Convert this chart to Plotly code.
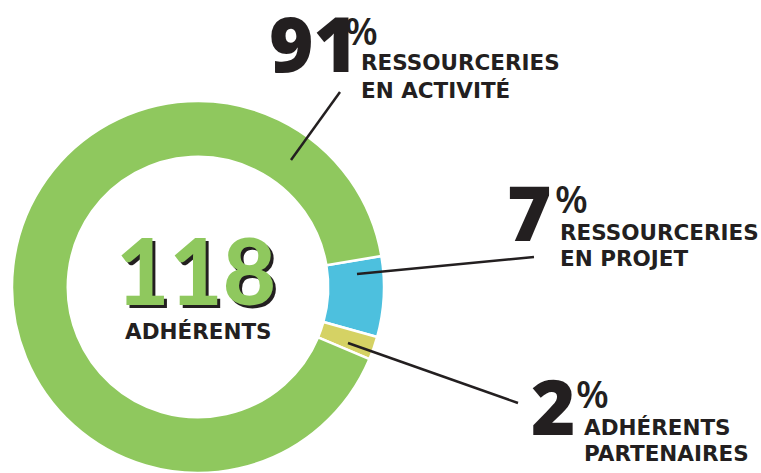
import plotly.graph_objects as go

# ---- data ----
categories = ["Ressourceries en projet", "Adhérents partenaires", "Ressourceries en activité"]
shares = [7, 2, 91]
colors = ["#4dc0de", "#d5d264", "#8fc85e"]
total_members = 118

big_labels = ["91", "7", "2"]
label_line1 = ["RESSOURCERIES", "RESSOURCERIES", "ADHÉRENTS"]
label_line2 = ["EN ACTIVITÉ", "EN PROJET", "PARTENAIRES"]
center_label = "ADHÉRENTS"

W, H = 761, 473
DARK = "#231f20"
NUM_FONT = "Open Sans"
TXT_FONT = "DejaVu Sans"
TXT_SIZE = 21.5

fig = go.Figure()

# donut
cx, cy, R = 198, 287, 186
fig.add_trace(go.Pie(
    labels=categories, values=shares, sort=False, direction="clockwise",
    rotation=80.4, hole=0.70, textinfo="none", hoverinfo="label+percent",
    marker=dict(colors=colors, line=dict(color="white", width=2.5)),
    domain=dict(x=[(cx - R) / W, (cx + R) / W], y=[(H - cy - R) / H, (H - cy + R) / H]),
    showlegend=False,
))

# invisible pixel-space axes for labels/leaders
fig.add_trace(go.Scatter(x=[0, W], y=[0, H], mode="markers", marker=dict(opacity=0),
                         hoverinfo="skip", showlegend=False))

# layout positions (pixels) for each label block
blocks = [
    dict(num_x=268, num_y=42.5, pct_x=344, pct_y=30, txt_x=360, l1_y=62.5, l2_y=90.5,
         lead=((291, 160), (340, 92))),
    dict(num_x=506, num_y=211, pct_x=554, pct_y=198, txt_x=559, l1_y=232.5, l2_y=258,
         lead=((357, 274), (534, 257))),
    dict(num_x=530, num_y=405.5, pct_x=575, pct_y=393, txt_x=583, l1_y=427.5, l2_y=453,
         lead=((348, 343), (518, 403))),
]

ann = []
shapes = []
for i, b in enumerate(blocks):
    ann.append(dict(x=b["num_x"], y=b["num_y"], text=big_labels[i], xanchor="left", yanchor="middle",
                    font=dict(family=NUM_FONT, size=76, color=DARK, weight=800)))
    ann.append(dict(x=b["pct_x"], y=b["pct_y"], text="%", xanchor="left", yanchor="middle",
                    font=dict(family=NUM_FONT, size=38, color=DARK, weight=600)))
    ann.append(dict(x=b["txt_x"], y=b["l1_y"], text=label_line1[i], xanchor="left", yanchor="middle",
                    font=dict(family=TXT_FONT, size=TXT_SIZE, color=DARK, weight=700)))
    ann.append(dict(x=b["txt_x"], y=b["l2_y"], text=label_line2[i], xanchor="left", yanchor="middle",
                    font=dict(family=TXT_FONT, size=TXT_SIZE, color=DARK, weight=700)))
    (x0, y0), (x1, y1) = b["lead"]
    shapes.append(dict(type="line", x0=x0, y0=y0, x1=x1, y1=y1, xref="x", yref="y",
                       line=dict(color=DARK, width=2.5)))

# center total with drop shadow
ann.append(dict(x=199, y=272, text=str(total_members), xanchor="center", yanchor="middle",
                font=dict(family="Lato", size=92, color=DARK, weight=900)))
ann.append(dict(x=196, y=269, text=str(total_members), xanchor="center", yanchor="middle",
                font=dict(family="Lato", size=92, color=colors[2], weight=900)))
ann.append(dict(x=198, y=331.5, text=center_label, xanchor="center", yanchor="middle",
                font=dict(family=TXT_FONT, size=TXT_SIZE, color=DARK, weight=700)))

for a in ann:
    a.update(xref="x", yref="y", showarrow=False, borderpad=0)

fig.update_layout(
    width=W, height=H, margin=dict(l=0, r=0, t=0, b=0),
    paper_bgcolor="white", plot_bgcolor="rgba(0,0,0,0)",
    xaxis=dict(range=[0, W], visible=False, fixedrange=True, domain=[0, 1]),
    yaxis=dict(range=[H, 0], visible=False, fixedrange=True, domain=[0, 1]),
    annotations=ann, shapes=shapes,
)

fig.write_html("out.html", config={"displayModeBar": False},
               post_script="document.body.style.margin='0';document.body.style.overflow='hidden';")
